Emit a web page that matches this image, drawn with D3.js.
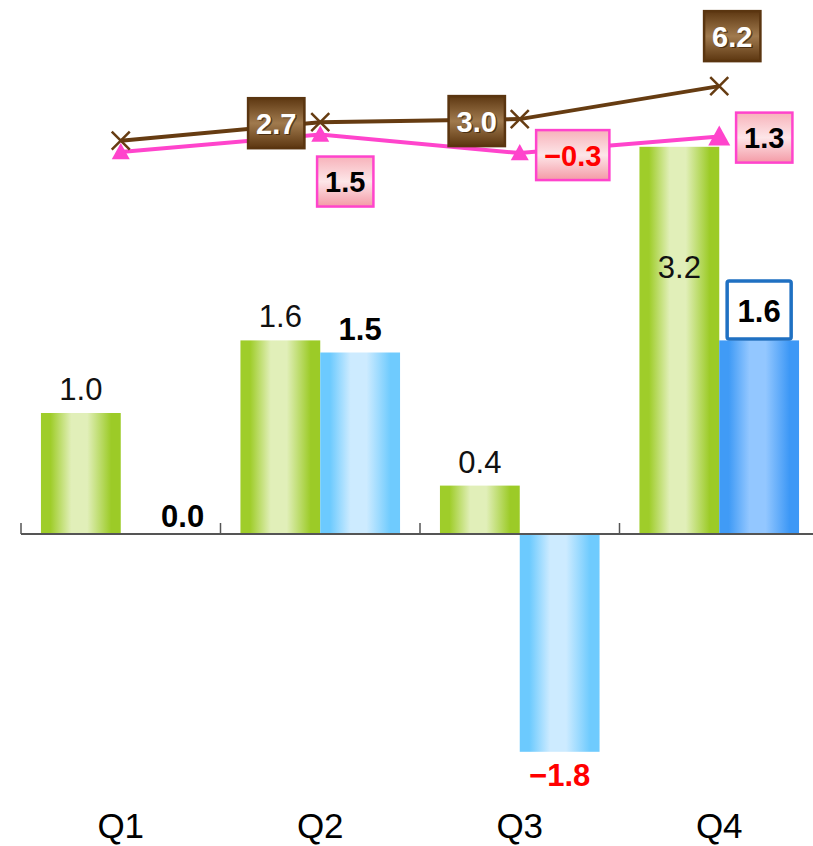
<!DOCTYPE html>
<html><head><meta charset="utf-8">
<script src="https://cdn.jsdelivr.net/npm/d3@7"></script>
<style>
html,body{margin:0;padding:0;background:#fff;}
svg{display:block;}
text{font-family:"Liberation Sans",Arial,sans-serif;}
</style></head>
<body>
<svg id="chart" width="813" height="846"></svg>
<script>
// ---- data ----
const categories = ["Q1", "Q2", "Q3", "Q4"];
const greenValues = [1.0, 1.6, 0.4, 3.2];
const blueValues = [0.0, 1.5, -1.8, 1.6];
const brownLine = [0.9, 2.7, 3.0, 6.2];
const pinkLine = [-0.2, 1.5, -0.3, 1.3];
const brownLabelShown = [false, true, true, true];
const pinkLabelShown = [false, true, true, true];

const svg = d3.select("#chart");
const W = 813, H = 846;

const x = d3.scaleBand().domain(categories).range([21, 819]).paddingInner(0).paddingOuter(0);
const y = d3.scaleLinear().domain([-2, 4]).range([776, 50]);
const y2 = d3.scaleLinear().domain([0, 10]).range([150, 47]);

const defs = svg.append("defs");
function hGrad(id, edge, light, edge2) {
  const g = defs.append("linearGradient").attr("id", id).attr("x1", "0").attr("x2", "1").attr("y1", "0").attr("y2", "0");
  [[0, edge], [0.12, edge], [0.38, light], [0.58, light], [0.88, edge2], [1, edge2]].forEach(s =>
    g.append("stop").attr("offset", s[0]).attr("stop-color", s[1]));
}
hGrad("gGreen", "#9fcd2a", "#e1efb9", "#9ccb27");
hGrad("gBlue", "#6ccafe", "#cdebff", "#6fcbfe");
hGrad("gBlueDark", "#409bf6", "#93c7ff", "#3d98f6");
function vGrad(id, stops) {
  const g = defs.append("linearGradient").attr("id", id).attr("x1", "0").attr("x2", "0").attr("y1", "0").attr("y2", "1");
  stops.forEach(s => g.append("stop").attr("offset", s[0]).attr("stop-color", s[1]));
}
vGrad("gBrown", [[0, "#5e3812"], [0.5, "#a07a4e"], [1, "#5c3610"]]);
vGrad("gPink", [[0, "#f7b2ba"], [0.5, "#fde6e8"], [1, "#f49aa6"]]);

const bw = x.bandwidth();
const barOff = bw * 0.1, barW = bw * 0.4;

// bars
const g = svg.append("g");
categories.forEach((c, i) => {
  const gv = greenValues[i];
  g.append("rect").attr("x", x(c) + barOff).attr("width", barW)
    .attr("y", Math.min(y(gv), y(0))).attr("height", Math.abs(y(gv) - y(0)))
    .attr("fill", "url(#gGreen)");
  const bv = blueValues[i];
  g.append("rect").attr("x", x(c) + barOff + barW).attr("width", barW)
    .attr("y", Math.min(y(bv), y(0))).attr("height", Math.abs(y(bv) - y(0)))
    .attr("fill", i === 3 ? "url(#gBlueDark)" : "url(#gBlue)");
});

// axis
const axis = svg.append("g");
axis.append("line").attr("x1", x.range()[0]).attr("x2", W).attr("y1", y(0)).attr("y2", y(0))
  .attr("stroke", "#555").attr("stroke-width", 2);
categories.forEach(c => {
  axis.append("line").attr("x1", x(c)).attr("x2", x(c)).attr("y1", y(0) - 11).attr("y2", y(0))
    .attr("stroke", "#555").attr("stroke-width", 1.5);
});
categories.forEach(c => {
  axis.append("text").attr("x", x(c) + bw / 2).attr("y", 838).attr("text-anchor", "middle")
    .attr("font-size", 35).attr("fill", "#000").text(c);
});

const fmt = v => (v < 0 ? "\u2212" : "") + Math.abs(v).toFixed(1);

// bar labels
categories.forEach((c, i) => {
  const gv = greenValues[i];
  const gx = x(c) + barOff + barW / 2;
  const gy = i === 3 ? y(gv) + 131 : y(gv) - 13;
  svg.append("text").attr("x", gx).attr("y", gy).attr("text-anchor", "middle")
    .attr("font-size", 31).attr("fill", "#111").text(fmt(gv));
  const bv = blueValues[i];
  let bx = x(c) + barOff + barW * 1.5;
  if (i === 3) {
    svg.append("rect").attr("x", bx - 32).attr("y", 281).attr("width", 64).attr("height", 58)
      .attr("fill", "#fff").attr("stroke", "#1f70c2").attr("stroke-width", 3.5).attr("rx", 2);
    svg.append("text").attr("x", bx).attr("y", 322).attr("text-anchor", "middle")
      .attr("font-size", 31).attr("font-weight", "bold").attr("fill", "#000").text(fmt(bv));
  } else {
    let by;
    if (bv < 0) by = y(bv) + 34;
    else if (bv === 0) { bx += 22; by = y(bv) - 7; }
    else by = y(bv) - 13;
    svg.append("text").attr("x", bx).attr("y", by).attr("text-anchor", "middle")
      .attr("font-size", 31).attr("font-weight", "bold").attr("fill", bv < 0 ? "#ff0000" : "#000").text(fmt(bv));
  }
});

// lines
const cx = c => x(c) + bw / 2;
const lineGen = d3.line().x(d => cx(d.c)).y(d => y2(d.v));
const pinkData = categories.map((c, i) => ({c, v: pinkLine[i]}));
const brownData = categories.map((c, i) => ({c, v: brownLine[i]}));
svg.append("path").datum(pinkData).attr("d", lineGen).attr("fill", "none")
  .attr("stroke", "#ff44cc").attr("stroke-width", 4);
svg.append("path").datum(brownData).attr("d", lineGen).attr("fill", "none")
  .attr("stroke", "#663c12").attr("stroke-width", 4);
// markers
pinkData.forEach((d, i) => {
  const px = cx(d.c), py = y2(d.v), s = i === 3 ? 11 : 9;
  svg.append("path").attr("d", `M${px},${py - s}L${px + s},${py + s * 0.8}L${px - s},${py + s * 0.8}Z`).attr("fill", "#ff44cc");
});
brownData.forEach(d => {
  const px = cx(d.c), py = y2(d.v), s = 9;
  svg.append("path").attr("d", `M${px - s},${py - s}L${px + s},${py + s}M${px - s},${py + s}L${px + s},${py - s}`)
    .attr("stroke", "#663c12").attr("stroke-width", 2.5).attr("fill", "none");
});

// line labels
const brownOffsets = [[0, 0], [-44, 1], [-43, 2], [13, -50]];
const pinkOffsets = [[0, 0], [25, 47], [53, 2], [45, 1]];
function boxLabel(px, py, txt, fill, stroke, color, shadow) {
  const gg = svg.append("g");
  if (shadow) {
    gg.append("text").attr("x", px + 1.5).attr("y", py + 12).attr("text-anchor", "middle")
      .attr("font-size", 29).attr("font-weight", "bold").attr("fill", "rgba(40,20,0,0.6)").text(txt);
  }
  const t = gg.append("text").attr("x", px).attr("y", py + 10.5).attr("text-anchor", "middle")
    .attr("font-size", 29).attr("font-weight", "bold").attr("fill", color).text(txt);
  const bb = t.node().getBBox();
  const w = bb.width + 16, h = 50;
  gg.insert("rect", "text").attr("x", px - w / 2).attr("y", py - h / 2).attr("width", w).attr("height", h)
    .attr("fill", fill).attr("stroke", stroke).attr("stroke-width", 2.5);
}
brownData.forEach((d, i) => {
  if (!brownLabelShown[i]) return;
  boxLabel(cx(d.c) + brownOffsets[i][0], y2(d.v) + brownOffsets[i][1], fmt(d.v), "url(#gBrown)", "#5a3510", "#fff", true);
});
pinkData.forEach((d, i) => {
  if (!pinkLabelShown[i]) return;
  boxLabel(cx(d.c) + pinkOffsets[i][0], y2(d.v) + pinkOffsets[i][1], fmt(d.v), "url(#gPink)", "#ff44cc", d.v < 0 ? "#ff0000" : "#000", false);
});
</script>
</body></html>
